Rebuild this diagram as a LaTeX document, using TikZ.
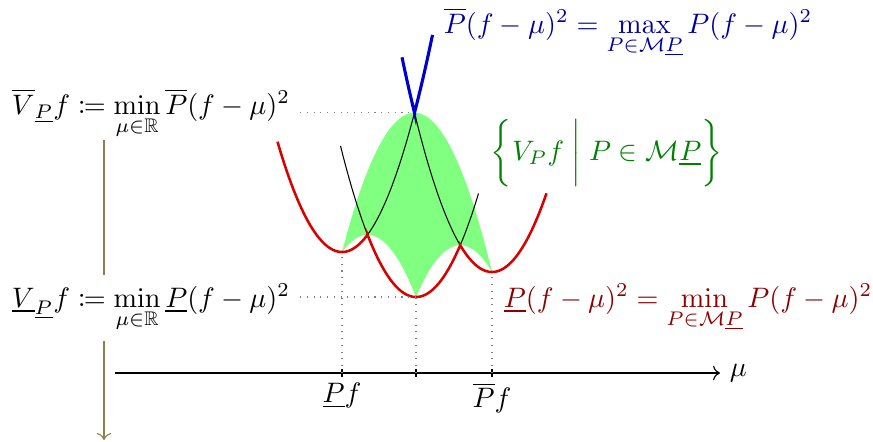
\documentclass[tikz,border=0pt]{standalone}
\usepackage{amsmath,amssymb,mathtools}
\usetikzlibrary{arrows.meta, calc, backgrounds}
\definecolor{axisolive}{RGB}{140,128,80}
\tikzset{
  envlow/.style={red!85!black, line width=0.9pt},
  envup/.style={blue!80!black, line width=1.1pt},
  parab/.style={black, line width=0.37pt},
  guide/.style={gray, dotted},
  tickmark/.style={line width=0.75pt},
  lab/.style={anchor=base west},
}
\newcommand{\acurv}{0.0265}

\begin{document}
\begin{tikzpicture}[x=0.355pt, y=-0.355pt]
  \useasboundingbox (0,0) rectangle (873,441);
  % key points
  \coordinate (lo) at (342,373);
  \coordinate (mid) at (416,373);
  \coordinate (up) at (492,373);
  \coordinate (lomin) at (342,252);
  \coordinate (midmin) at (416,297);
  \coordinate (upmin) at (492,272);
  \coordinate (cusp) at (414.5,112.7);
  \coordinate (axstart) at (115,373);
  \coordinate (axend) at (720,373);
  \coordinate (ybot) at (104,440);

  % set of variances
  \fill[green!50] plot[domain=342:416, samples=30] (\x,{234.8+\acurv*(\x-367.5)^2})
    -- plot[domain=416:492, samples=30] (\x,{245.2+\acurv*(\x-460.2)^2})
    -- plot[domain=492:342, samples=50] (\x,{112.7+\acurv*(\x-414.5)^2}) -- cycle;

  % single parabolas
  \draw[parab] plot[domain=340.5:367.5, samples=20] (\x,{297-\acurv*(\x-416)^2});
  \draw[parab] plot[domain=367.5:414.5, samples=20] (\x,{252-\acurv*(\x-342)^2});
  \draw[parab] plot[domain=414.5:460.2, samples=20] (\x,{272-\acurv*(\x-492)^2});
  \draw[parab] plot[domain=460.2:478.5, samples=20] (\x,{297-\acurv*(\x-416)^2});

  % lower envelope
  \draw[envlow] plot[domain=277.5:367.5, samples=40] (\x,{252-\acurv*(\x-342)^2})
    -- plot[domain=367.5:460.2, samples=40] (\x,{297-\acurv*(\x-416)^2})
    -- plot[domain=460.2:546.5, samples=40] (\x,{272-\acurv*(\x-492)^2});

  % upper envelope
  \draw[envup] plot[domain=402:414.5, samples=10] (\x,{272-\acurv*(\x-492)^2})
    -- plot[domain=414.5:432.5, samples=10] (\x,{252-\acurv*(\x-342)^2});

  % axis
  \draw[->] (axstart) -- (axend);
  \node[right] (mulab) at (axend) {$\mu$};
  \foreach \t in {lo,mid,up}
    \draw[tickmark] ([yshift=1.5pt]\t) -- ([yshift=-1.5pt]\t);
  \node[below] (lolab) at (lo) {$\underline{P}f$};
  \node[below] (uplab) at (up) {$\overline{P}f$};

  % guides
  \draw[guide] (lo) -- (lomin);
  \draw[guide] (mid) -- (midmin);
  \draw[guide] (up) -- (upmin);

  % labels
  \node[anchor=base east] (vbar) at (300,114)
    {$\overline{V}_{\underline{P}}f \coloneqq \min\limits_{\mu\in\mathbb{R}}\overline{P}(f-\mu)^2$};
  \node[anchor=base east, fill=white] (vlow) at (300,307)
    {$\underline{V}_{\underline{P}}f \coloneqq \min\limits_{\mu\in\mathbb{R}}\underline{P}(f-\mu)^2$};
  \draw[guide] (vbar.east |- cusp) -- (cusp);
  \draw[guide] (vlow.east |- midmin) -- (midmin);

  \node[lab, blue!60!black] (maxlab) at (434,33)
    {$\overline{P}(f-\mu)^2 = \max\limits_{P\in\mathcal{M}\underline{P}} P(f-\mu)^2$};
  \node[lab, green!50!black] (setlab) at (481,160)
    {$\biggl\{ V_P f \biggm| P\in\mathcal{M}\underline{P}\biggr\}$};
  \node[lab, red!55!black] (minlab) at (494,307)
    {$\underline{P}(f-\mu)^2 = \min\limits_{P\in\mathcal{M}\underline{P}} P(f-\mu)^2$};

  \begin{scope}[on background layer]
    \draw[->, axisolive] ([yshift=3pt]vbar.south -| ybot) -- (ybot);
  \end{scope}
\end{tikzpicture}
\end{document}
